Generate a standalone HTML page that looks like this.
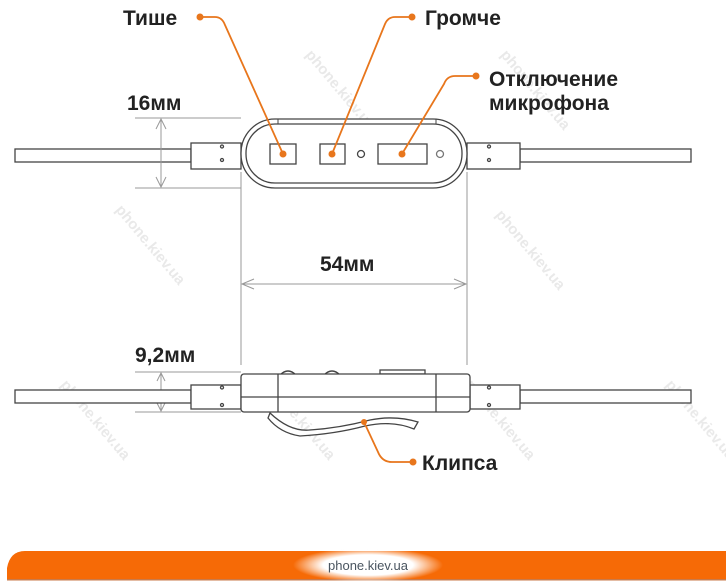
<!DOCTYPE html>
<html><head><meta charset="utf-8"><style>
html,body{margin:0;padding:0;background:#fff;}
svg{display:block;}
text{font-family:"Liberation Sans","DejaVu Sans",sans-serif;}
</style></head><body>
<svg width="726" height="587" viewBox="0 0 726 587" xmlns="http://www.w3.org/2000/svg">
<defs>
<radialGradient id="glow" cx="0.5" cy="0.5" r="0.5">
<stop offset="0.6" stop-color="#fff"/><stop offset="1" stop-color="#fff" stop-opacity="0"/>
</radialGradient>
</defs>
<!-- watermarks -->
<g fill="#e4e4e4" font-size="15" font-weight="bold" opacity="0.8">
<text transform="translate(115,210) rotate(50)">phone.kiev.ua</text>
<text transform="translate(305,55) rotate(50)">phone.kiev.ua</text>
<text transform="translate(500,55) rotate(50)">phone.kiev.ua</text>
<text transform="translate(495,215) rotate(50)">phone.kiev.ua</text>
<text transform="translate(60,385) rotate(50)">phone.kiev.ua</text>
<text transform="translate(265,385) rotate(50)">phone.kiev.ua</text>
<text transform="translate(465,385) rotate(50)">phone.kiev.ua</text>
<text transform="translate(665,385) rotate(50)">phone.kiev.ua</text>
</g>

<!-- top device -->
<g stroke="#444" stroke-width="1.3" fill="#fff">
<rect x="15" y="149" width="176" height="13"/>
<rect x="520" y="149" width="171" height="13"/>
<rect x="191" y="143" width="50" height="26"/>
<rect x="467" y="143" width="53" height="26"/>
<rect x="241" y="119" width="226" height="69" rx="34"/>
<rect x="246" y="124" width="216" height="59" rx="29"/>
<rect x="270" y="144" width="26" height="20"/>
<rect x="320" y="144" width="25" height="20"/>
<rect x="378" y="144" width="49" height="20"/>
<circle cx="361" cy="154" r="3.5"/>
<circle cx="440" cy="154" r="3.5" stroke="#777"/>
<circle cx="222" cy="146.5" r="1.5"/><circle cx="222" cy="160" r="1.5"/>
<circle cx="489" cy="146.5" r="1.5"/><circle cx="489" cy="160" r="1.5"/>
</g>
<line x1="278" y1="119" x2="278" y2="124" stroke="#444"/>
<line x1="436" y1="119" x2="436" y2="124" stroke="#444"/>

<!-- dimensions -->
<g stroke="#999" stroke-width="1" fill="none">
<line x1="135" y1="118" x2="241" y2="118"/>
<line x1="135" y1="188" x2="241" y2="188"/>
<line x1="161" y1="119" x2="161" y2="187"/>
<polyline points="156,129 161,119 166,129"/>
<polyline points="156,177 161,187 166,177"/>
<line x1="241" y1="172" x2="241" y2="365"/>
<line x1="467" y1="172" x2="467" y2="365"/>
<line x1="242" y1="284" x2="466" y2="284"/>
<polyline points="254,279 242,284 254,289"/>
<polyline points="454,279 466,284 454,289"/>
<line x1="135" y1="372" x2="241" y2="372"/>
<line x1="135" y1="412" x2="241" y2="412"/>
<line x1="161" y1="373" x2="161" y2="411"/>
<polyline points="157,381 161,373 165,381"/>
<polyline points="157,403 161,411 165,403"/>
</g>

<!-- bottom device -->
<g stroke="#444" stroke-width="1.3" fill="#fff">
<rect x="15" y="390" width="176" height="13"/>
<rect x="520" y="390" width="171" height="13"/>
<rect x="191" y="385" width="50" height="24"/>
<rect x="470" y="385" width="50" height="24"/>
<path d="M280,375 q8,-8 16,0 M324,375 q8,-8 16,0" fill="none"/>
<rect x="380" y="370" width="45" height="4"/>
<rect x="241" y="374" width="229" height="38" rx="3"/>
<line x1="241" y1="397" x2="470" y2="397"/>
<line x1="278" y1="374" x2="278" y2="412"/>
<line x1="436" y1="374" x2="436" y2="412"/>
<circle cx="222" cy="387.5" r="1.5"/><circle cx="222" cy="405" r="1.5"/>
<circle cx="489" cy="387.5" r="1.5"/><circle cx="489" cy="405" r="1.5"/>
<path d="M270,413 Q290,432 310,430 Q340,428 370,420 Q395,415 418,422 L414,429 Q392,420 365,426 Q335,434 300,436 Q280,433 268,418 Z" fill="#fff"/>
</g>

<!-- orange leaders -->
<g stroke="#e8761c" stroke-width="1.8" fill="none">
<path d="M200,17 L215,17 Q222,17 225,25 L283,154"/>
<path d="M412,17 L395,17 Q388,17 385,24 L332,154"/>
<path d="M476,76 L455,76 Q447,76 444,84 L402,154"/>
<path d="M364,422 L378,452 Q382,462 392,462 L413,462"/>
</g>
<g fill="#e8761c">
<circle cx="200" cy="17" r="3.5"/><circle cx="412" cy="17" r="3.5"/><circle cx="476" cy="76" r="3.5"/><circle cx="413" cy="462" r="3.5"/>
<circle cx="283" cy="154" r="3.5"/><circle cx="332" cy="154" r="3.5"/><circle cx="402" cy="154" r="3.5"/><circle cx="364" cy="422" r="3"/>
</g>

<!-- labels -->
<g fill="#222" font-size="21" font-weight="bold">
<text x="123" y="25">Тише</text>
<text x="425" y="25">Громче</text>
<text x="489" y="86">Отключение</text>
<text x="489" y="110">микрофона</text>
<text x="127" y="110">16мм</text>
<text x="320" y="271">54мм</text>
<text x="135" y="362">9,2мм</text>
<text x="422" y="470">Клипса</text>
</g>

<!-- footer -->
<path d="M7,580 L7,568 Q10,551 25,551 L726,551 L726,580 Z" fill="#f66a06"/>
<rect x="7" y="579" width="719" height="1.5" fill="#c97a4a"/>
<ellipse cx="368" cy="565" rx="75" ry="17" fill="url(#glow)"/>
<text x="368" y="570" text-anchor="middle" font-size="13" fill="#4a5560">phone.kiev.ua</text>
</svg>
</body></html>
